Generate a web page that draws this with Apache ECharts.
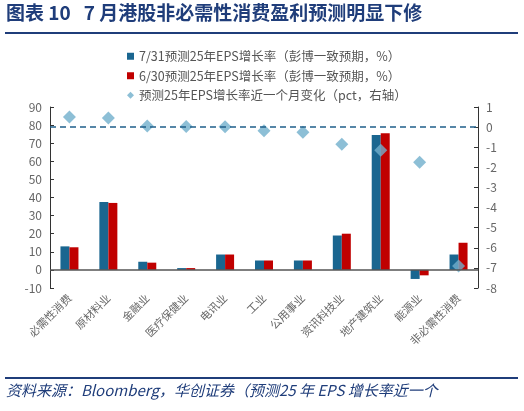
<!DOCTYPE html>
<html><head><meta charset="utf-8">
<script src="https://cdn.jsdelivr.net/npm/echarts@6/dist/echarts.min.js"></script>
<style>html,body{margin:0;padding:0;background:#fff}#c{width:524px;height:411px}</style>
</head><body><div id="c"></div>
<script>
// 行业
var categories = ['必需性消费','原材料业','金融业','医疗保健业','电讯业','工业','公用事业','资讯科技业','地产建筑业','能源业','非必需性消费'];
// 7/31 预测
var eps0731 = [13, 37.5, 4.5, 1, 8.5, 5.2, 5.2, 19, 74.5, -5, 8.5];
// 6/30 预测
var eps0630 = [12.5, 37, 4, 1, 8.5, 5.2, 5.2, 20, 75.5, -3, 15];
// 近一个月变化（右轴）
var change = [0.5, 0.45, 0.05, 0.03, 0.02, -0.18, -0.25, -0.85, -1.15, -1.75, -6.9];

var names = ['7/31预测25年EPS增长率（彭博一致预期，%）','6/30预测25年EPS增长率（彭博一致预期，%）','预测25年EPS增长率近一个月变化（pct，右轴）'];
var font = '"Noto Sans CJK SC", sans-serif';
var navy = '#1f3d7a';

var chart = echarts.init(document.getElementById('c'));
chart.setOption({
  animation: false,
  textStyle: {fontFamily: font},
  graphic: [
    {type: 'text', left: 6, top: 3, style: {text: '图表 10   7 月港股非必需性消费盈利预测明显下修', fill: navy, font: 'bold 19px "Noto Sans CJK SC", serif'}},
    {type: 'rect', shape: {x: 5, y: 32, width: 513, height: 2}, style: {fill: navy}},
    {type: 'rect', shape: {x: 5, y: 377, width: 513, height: 2}, style: {fill: navy}},
    {type: 'text', left: 6, top: 383, style: {text: '资料来源：Bloomberg，华创证券（预测25 年 EPS 增长率近一个', fill: navy, font: 'italic 15px "Noto Sans CJK SC", serif'}}
  ],
  legend: {
    orient: 'vertical', left: 122, top: 45, itemGap: 7, itemWidth: 7, itemHeight: 7,
    textStyle: {color: '#555', fontSize: 12.5},
    data: [{name: names[0], icon: 'rect'}, {name: names[1], icon: 'rect'}, {name: names[2], icon: 'diamond'}]
  },
  grid: {left: 50, right: 46, top: 107, bottom: 123},
  xAxis: {
    type: 'category', data: categories,
    axisLine: {onZero: false, show: false},
    axisTick: {show: false},
    axisLabel: {rotate: 45, color: '#666', fontSize: 11, interval: 0, margin: 8}
  },
  yAxis: [
    {type: 'value', min: -10, max: 90, interval: 10, splitLine: {show: false},
     axisLine: {show: true, lineStyle: {color: '#333'}}, axisTick: {show: true, inside: true, length: 4},
     axisLabel: {color: '#666', fontSize: 12}},
    {type: 'value', min: -8, max: 1, interval: 1, splitLine: {show: false},
     axisLine: {show: true, lineStyle: {color: '#333'}}, axisTick: {show: true, inside: true, length: 4},
     axisLabel: {color: '#666', fontSize: 12}}
  ],
  series: [
    {name: names[0], type: 'bar', data: eps0731, barWidth: 9, barGap: '0%', itemStyle: {color: '#1a6690'},
     markLine: {symbol: 'none', silent: true, label: {show: false}, lineStyle: {color: '#555', type: 'solid', width: 1.5}, data: [{yAxis: 0}]}},
    {name: names[1], type: 'bar', data: eps0630, barWidth: 9, itemStyle: {color: '#c00000'}},
    {name: names[2], type: 'scatter', yAxisIndex: 1, data: change, symbol: 'diamond', symbolSize: 13, itemStyle: {color: '#70afcc'},
     markLine: {symbol: 'none', silent: true, label: {show: false}, lineStyle: {color: '#1f5f8a', type: [6, 4], width: 1.5}, data: [{yAxis: 0}]}}
  ]
});
</script></body></html>
